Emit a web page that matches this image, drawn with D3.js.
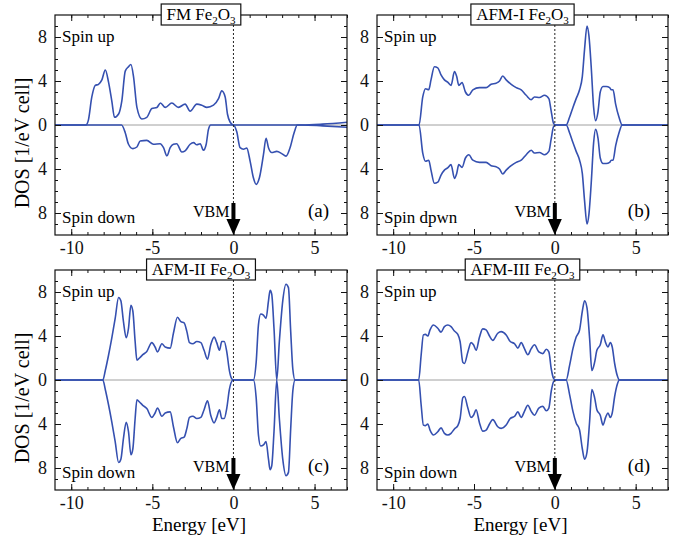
<!DOCTYPE html>
<html>
<head>
<meta charset="utf-8">
<script src="https://cdn.jsdelivr.net/npm/d3@7"></script>
<style>
    body { margin: 0; background: #fff; }
    svg { font-family: "Liberation Serif", "Times New Roman", serif; }
    .axis text { font-family: "Liberation Serif", "Times New Roman", serif; font-size: 18px; fill: #111; }
    .axis line { stroke: #111; }
</style>
</head>
<body>
<div id="chart"></div>
<script>
// tick values
const energyMajor = [-10, -5, 0, 5];
const energyMinor = d3.range(-10, 8);
const dosMajor = [-8, -4, 0, 4, 8];
const dosMinor = d3.range(-9, 10);

// [energy eV, DOS]; spin down stored as magnitude
const fmUp = [[-11,0],[-9.1,0],[-8.95,0.4],[-8.73,2.55],[-8.52,3.6],[-8.32,3.7],[-8.11,4.1],[-7.9,5.0],[-7.7,3.9],[-7.5,2.2],
    [-7.33,0.7],[-7.08,1.0],[-6.88,2.2],[-6.67,4.9],[-6.47,5.3],[-6.32,5.5],[-6.16,4.4],[-5.95,1.6],[-5.65,0.55],[-5.34,0.7],
    [-5.03,1.5],[-4.72,1.6],[-4.5,2.0],[-4.2,1.6],[-3.8,2.0],[-3.39,1.6],[-2.98,1.9],[-2.67,1.26],[-2.26,1.9],[-1.95,1.8],
    [-1.64,1.6],[-1.23,1.8],[-0.92,2.4],[-0.72,3.1],[-0.51,2.55],[-0.37,1.0],[-0.2,0.25],[0,0],[4.2,0],[5.5,0.08],[7,0.25]];

const fmDown = [[-11,0],[-6.9,0],[-6.67,0.7],[-6.47,1.75],[-6.2,2.15],[-5.95,2.0],[-5.75,1.45],[-5.34,1.4],[-4.93,1.75],
    [-4.52,1.7],[-4.31,2.06],[-4.1,2.8],[-3.9,2.06],[-3.7,1.75],[-3.5,1.7],[-3.18,2.45],[-2.98,2.35],[-2.67,1.75],[-2.46,1.6],
    [-2.26,1.8],[-2.05,1.7],[-1.85,2.3],[-1.68,1.75],[-1.54,0.4],[-1.4,0],[0,0],[0.2,0.6],[0.41,2.06],[0.62,2.2],[0.82,2.1],
    [1.03,3.3],[1.23,4.8],[1.4,5.4],[1.6,4.8],[1.85,2.7],[2.01,1.2],[2.16,2.06],[2.36,2.5],[2.67,2.4],[2.98,2.6],[3.24,2.83],
    [3.49,2.06],[3.74,0.7],[3.94,0],[4.2,0],[5.5,0.08],[7,0.2]];

// AFM cases: spin up and spin down mirror each other
const afm1Dos = [[-11,0],[-8.4,0],[-8.17,2.55],[-8.0,3.3],[-7.8,3.2],[-7.66,4.1],[-7.45,5.3],[-7.24,5.2],[-7.04,4.55],[-6.83,4.1],
    [-6.63,3.9],[-6.42,3.6],[-6.21,4.85],[-6.07,4.4],[-5.94,3.6],[-5.74,3.85],[-5.53,3.0],[-5.32,2.7],[-5.07,3.2],[-4.66,3.4],
    [-4.25,3.4],[-3.94,3.7],[-3.63,3.8],[-3.42,4.0],[-3.22,4.45],[-3.01,4.1],[-2.7,3.7],[-2.39,3.4],[-2.08,3.2],[-1.77,2.7],
    [-1.46,2.3],[-1.26,2.55],[-0.95,2.5],[-0.64,2.7],[-0.37,2.4],[-0.23,1.3],[-0.08,0.15],[0.04,0],[0.7,0],[0.91,0.7],[1.12,1.6],
    [1.32,2.4],[1.53,3.2],[1.7,4.4],[1.84,6.9],[1.99,9.0],[2.11,8.1],[2.25,5.3],[2.4,1.6],[2.52,0.4],[2.67,1.2],[2.81,3.0],
    [2.98,3.5],[3.18,3.5],[3.39,3.4],[3.49,3.2],[3.6,3.2],[3.76,1.9],[3.97,0.7],[4.17,0],[7,0]];

const afm2Dos = [[-11,0],[-8.05,0],[-7.9,0.86],[-7.7,2.25],[-7.5,3.8],[-7.29,5.6],[-7.08,7.5],[-6.94,7.2],[-6.78,5.3],[-6.61,3.85],
    [-6.47,4.7],[-6.32,6.8],[-6.2,6.25],[-6.06,3.5],[-5.95,1.8],[-5.79,2.0],[-5.59,2.3],[-5.34,2.6],[-5.03,3.4],[-4.83,3.0],
    [-4.68,2.55],[-4.41,3.3],[-4.21,3.0],[-3.9,2.9],[-3.7,4.25],[-3.45,5.7],[-3.24,5.3],[-3.04,5.2],[-2.87,4.4],[-2.71,3.4],
    [-2.5,3.3],[-2.26,3.5],[-2.01,3.4],[-1.81,2.7],[-1.6,1.9],[-1.4,3.2],[-1.19,3.9],[-1.03,3.4],[-0.86,2.7],[-0.72,3.5],
    [-0.57,3.5],[-0.41,2.55],[-0.25,0.86],[-0.1,0.1],[0,0],[1.23,0],[1.4,1.6],[1.54,5.0],[1.68,6.0],[1.85,5.9],[2.01,5.6],
    [2.16,7.2],[2.26,8.15],[2.36,7.8],[2.5,4.7],[2.67,0],[2.83,3.5],[3.04,7.2],[3.24,8.7],[3.39,8.4],[3.53,4.4],[3.66,1.0],
    [3.8,0],[7,0]];

const afm3Dos = [[-11,0],[-8.42,0],[-8.27,2.25],[-8.13,4.1],[-8.0,4.15],[-7.86,4.0],[-7.72,4.55],[-7.51,5.0],[-7.24,4.7],[-7.04,4.35],
    [-6.83,4.85],[-6.62,5.0],[-6.42,4.85],[-6.21,4.45],[-6.0,4.15],[-5.86,3.5],[-5.69,1.6],[-5.59,1.5],[-5.38,2.55],[-5.18,3.4],
    [-5.03,3.2],[-4.87,2.7],[-4.66,3.9],[-4.46,4.65],[-4.25,4.55],[-4.04,4.0],[-3.84,3.6],[-3.53,4.25],[-3.32,4.4],[-3.01,4.1],
    [-2.76,3.5],[-2.49,3.3],[-2.29,2.9],[-2.08,3.4],[-1.88,2.85],[-1.67,2.3],[-1.46,2.85],[-1.26,3.2],[-0.99,2.55],[-0.74,2.4],
    [-0.53,2.8],[-0.37,2.55],[-0.22,1.0],[-0.08,0.15],[0.04,0],[0.7,0],[0.91,1.3],[1.12,2.85],[1.32,3.9],[1.53,4.55],[1.7,6.25],
    [1.84,7.2],[1.99,6.55],[2.15,3.8],[2.29,0.86],[2.46,1.6],[2.6,2.7],[2.81,3.2],[2.98,4.1],[3.14,3.4],[3.29,3.0],[3.43,3.4],
    [3.55,3.0],[3.7,1.5],[3.86,0.4],[4.0,0],[7,0]];

const panelNames = ["FM", "AFM-I", "AFM-II", "AFM-III"];
const panelTags = ["(a)", "(b)", "(c)", "(d)"];
const spinDownLabels = ["Spin down", "Spin dpwn", "Spin down", "Spin down"];


class DosPanel {
    constructor(svg, index, upData, downData) {
        this.svg = svg;
        this.index = index;
        this.upData = upData;
        this.downData = downData;
        this.initVis();
    }

    initVis() {
        let vis = this;
        let col = vis.index % 2, row = Math.floor(vis.index / 2);

        vis.left = [55, 377][col];
        vis.top = [15, 270][row];
        vis.width = [292, 291][col];
        vis.height = 220;

        vis.g = vis.svg.append("g")
            .attr("transform", `translate(${vis.left},${vis.top})`);

        vis.x = d3.scaleLinear().domain([-11, 7]).range([0, vis.width]);
        vis.y = d3.scaleLinear().domain([-10, 10]).range([vis.height, 0]);

        vis.g.append("clipPath").attr("id", "clip" + vis.index)
            .append("rect").attr("width", vis.width).attr("height", vis.height);

        vis.updateVis(col, row);
    }

    updateVis(col, row) {
        let vis = this;
        let plot = vis.g.append("g").attr("clip-path", `url(#clip${vis.index})`);

        // zero line
        plot.append("line")
            .attr("x1", 0).attr("x2", vis.width)
            .attr("y1", vis.y(0)).attr("y2", vis.y(0))
            .attr("stroke", "#888").attr("stroke-width", 0.8);

        let upLine = d3.line()
            .x(d => vis.x(d[0]))
            .y(d => vis.y(d[1]))
            .curve(d3.curveMonotoneX);
        let downLine = d3.line()
            .x(d => vis.x(d[0]))
            .y(d => vis.y(-d[1]))
            .curve(d3.curveMonotoneX);

        plot.append("path").datum(vis.downData)
            .attr("d", downLine)
            .attr("fill", "none").attr("stroke", "#3550b0").attr("stroke-width", 1.6);
        plot.append("path").datum(vis.upData)
            .attr("d", upLine)
            .attr("fill", "none").attr("stroke", "#3550b0").attr("stroke-width", 1.6);

        // frame
        vis.g.append("rect")
            .attr("width", vis.width).attr("height", vis.height)
            .attr("fill", "none").attr("stroke", "#111").attr("stroke-width", 1.2);

        // ticks on all four sides, pointing in
        let addAxis = (axis, transform) => {
            let a = vis.g.append("g").attr("class", "axis")
                .attr("transform", transform)
                .call(axis);
            a.select(".domain").remove();
            return a;
        };
        addAxis(d3.axisBottom(vis.x).tickValues(energyMinor).tickSize(-3).tickFormat(""), `translate(0,${vis.height})`);
        addAxis(d3.axisBottom(vis.x).tickValues(energyMajor).tickSize(-6).tickPadding(6)
            .tickFormat(d3.format("d")), `translate(0,${vis.height})`);
        addAxis(d3.axisTop(vis.x).tickValues(energyMinor).tickSize(-3).tickFormat(""), "translate(0,0)");
        addAxis(d3.axisTop(vis.x).tickValues(energyMajor).tickSize(-6).tickFormat(""), "translate(0,0)");
        addAxis(d3.axisLeft(vis.y).tickValues(dosMinor).tickSize(-3).tickFormat(""), "translate(0,0)");
        addAxis(d3.axisLeft(vis.y).tickValues(dosMajor).tickSize(-6).tickPadding(8)
            .tickFormat(d => Math.abs(d)), "translate(0,0)");
        addAxis(d3.axisRight(vis.y).tickValues(dosMinor).tickSize(-3).tickFormat(""), `translate(${vis.width},0)`);
        addAxis(d3.axisRight(vis.y).tickValues(dosMajor).tickSize(-6).tickFormat(""), `translate(${vis.width},0)`);

        // the minus sign of "-10" etc. as a hyphen like the original
        vis.g.selectAll(".axis text").text(function() { return d3.select(this).text().replace("\u2212", "-"); });

        // spin labels and panel tag
        vis.g.append("text").attr("x", 7).attr("y", 27)
            .attr("font-size", 17).text("Spin up");
        vis.g.append("text").attr("x", 7).attr("y", vis.height - 12)
            .attr("font-size", 17).text(spinDownLabels[vis.index]);
        vis.g.append("text").attr("x", vis.width - 18).attr("y", vis.height - 18)
            .attr("text-anchor", "end").attr("font-size", 19).text(panelTags[vis.index]);

        // VBM marker: dashed line from title box down to a thick arrow
        let x0 = vis.x(0);
        vis.g.append("line")
            .attr("x1", x0).attr("x2", x0)
            .attr("y1", 10).attr("y2", vis.height - 30)
            .attr("stroke", "#222").attr("stroke-width", 1).attr("stroke-dasharray", "2,2");
        vis.g.append("rect")
            .attr("x", x0 - 2).attr("y", vis.height - 32)
            .attr("width", 4).attr("height", 18).attr("fill", "#000");
        vis.g.append("path")
            .attr("d", `M${x0 - 7},${vis.height - 16}L${x0 + 7},${vis.height - 16}L${x0},${vis.height}Z`)
            .attr("fill", "#000");
        vis.g.append("text").attr("x", x0 - 4).attr("y", vis.height - 18)
            .attr("text-anchor", "end").attr("font-size", 16).text("VBM");

        // title box
        let titleBox = vis.g.append("rect");
        let title = vis.g.append("text")
            .attr("x", vis.width / 2).attr("y", 5)
            .attr("text-anchor", "middle").attr("font-size", 17);
        title.append("tspan").text(panelNames[vis.index] + " Fe");
        title.append("tspan").attr("font-size", 11).attr("dy", 4).text("2");
        title.append("tspan").attr("dy", -4).text("O");
        title.append("tspan").attr("font-size", 11).attr("dy", 4).text("3");
        let bb = title.node().getBBox();
        titleBox
            .attr("x", vis.width / 2 - bb.width / 2 - 5).attr("y", -11)
            .attr("width", bb.width + 10).attr("height", 21)
            .attr("fill", "#fff").attr("stroke", "#111").attr("stroke-width", 1.2);

        // axis titles
        if (col === 0) {
            vis.g.append("text")
                .attr("transform", `translate(${-26},${vis.height / 2 + 18}) rotate(-90)`)
                .attr("text-anchor", "middle").attr("font-size", 20)
                .text("DOS [1/eV cell]");
        }
        if (row === 1) {
            vis.g.append("text")
                .attr("x", vis.width / 2 - 2).attr("y", vis.height + 41)
                .attr("text-anchor", "middle").attr("font-size", 19)
                .text("Energy [eV]");
        }
    }
}

const svg = d3.select("#chart").append("svg")
    .attr("width", 683)
    .attr("height", 539);

new DosPanel(svg, 0, fmUp, fmDown);
new DosPanel(svg, 1, afm1Dos, afm1Dos);
new DosPanel(svg, 2, afm2Dos, afm2Dos);
new DosPanel(svg, 3, afm3Dos, afm3Dos);
</script>
</body>
</html>
